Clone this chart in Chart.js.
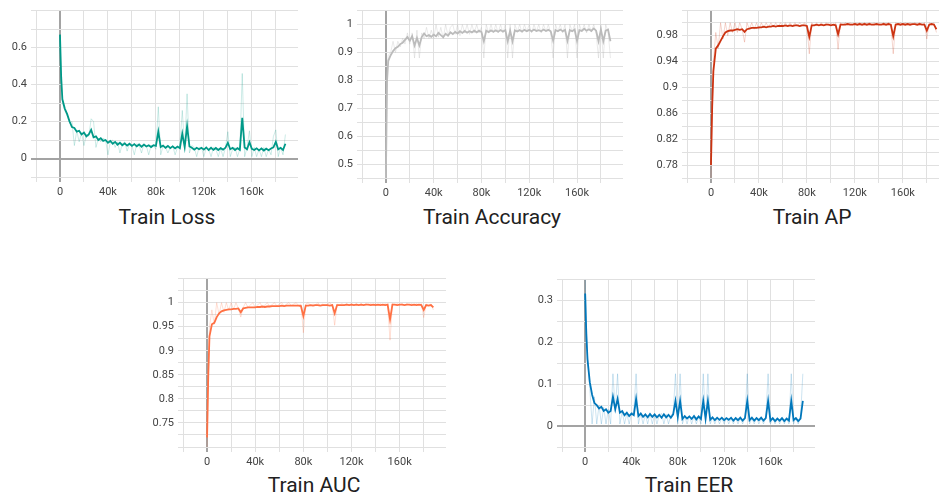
<!DOCTYPE html>
<html>
<head>
<meta charset="utf-8">
<title>Training curves</title>
<script src="https://cdn.jsdelivr.net/npm/chart.js@4.4.1/dist/chart.umd.min.js"></script>
<style>
  html, body { margin: 0; padding: 0; background: #fff; }
  body { position: relative; width: 939px; height: 497px; overflow: hidden; font-family: Roboto, "Noto Sans", sans-serif; }
  canvas { position: absolute; }
  .title { position: absolute; width: 240px; margin-left: -120px; text-align: center; font-size: 21px; line-height: 21px; color: #212121; }
</style>
</head>
<body>
<canvas id="lossChart"></canvas>
<canvas id="accChart"></canvas>
<canvas id="apChart"></canvas>
<canvas id="aucChart"></canvas>
<canvas id="eerChart"></canvas>
<div class="title" style="left:167px;top:207px">Train Loss</div>
<div class="title" style="left:492px;top:207px">Train Accuracy</div>
<div class="title" style="left:812px;top:207px">Train AP</div>
<div class="title" style="left:314px;top:475px">Train AUC</div>
<div class="title" style="left:689px;top:475px">Train EER</div>
<script>
// training step, in thousands
const steps = [0,1,2,4,6,8,10,12,14,16, 18,20,22,24,26,28,30,32,34,36, 38,40,42,44,46,48,50,52,54,56,
  58,60,62,64,66,68,70,72,74,76, 78,80,82,84,86,88,90,92,94,96, 98,100,102,104,106,108,110,112,114,116,
  118,120,122,124,126,128,130,132,134,136, 138,140,142,144,146,148,150,152,154,156,
  158,160,162,164,166,168,170,172,174,176, 178,180,182,184,186,188];

// Train Loss
const lossSmoothed = [0.67,0.44,0.32,0.27,0.24,0.2,0.17,0.165,0.145,0.15,
  0.13,0.14,0.12,0.13,0.155,0.115,0.12,0.1,0.11,0.095,
  0.1,0.085,0.095,0.08,0.09,0.075,0.085,0.072,0.082,0.07,
  0.08,0.068,0.078,0.066,0.076,0.064,0.075,0.065,0.072,0.062,
  0.072,0.068,0.145,0.062,0.07,0.058,0.068,0.056,0.066,0.055,
  0.065,0.056,0.135,0.062,0.175,0.065,0.058,0.048,0.058,0.05,
  0.058,0.048,0.06,0.046,0.058,0.047,0.057,0.046,0.056,0.048,
  0.058,0.085,0.05,0.058,0.046,0.056,0.047,0.22,0.06,0.05,
  0.088,0.052,0.046,0.055,0.044,0.054,0.043,0.053,0.045,0.054,
  0.06,0.09,0.05,0.058,0.046,0.08];
const lossRaw = [0.67,0.42,0.3,0.26,0.23,0.19,0.2,0.07,0.15,0.09,
  0.14,0.07,0.13,0.12,0.215,0.2,0.06,0.11,0.09,0.11,
  0.1,0.02,0.09,0.1,0.06,0.09,0.03,0.08,0.09,0.04,
  0.08,0.07,0.02,0.08,0.07,0.03,0.08,0.07,0.02,0.07,
  0.07,0.05,0.28,0.02,0.07,0.06,0.03,0.06,0.07,0.02,
  0.06,0.07,0.26,0.05,0.35,0.03,0.07,0.06,0.01,0.06,
  0.06,0.01,0.06,0.05,0.01,0.06,0.05,0.01,0.055,0.01,
  0.06,0.145,0.01,0.05,0.06,0.01,0.05,0.46,0.01,0.06,
  0.15,0.01,0.06,0.01,0.05,0.01,0.06,0.01,0.05,0.02,
  0.12,0.155,0.01,0.06,0.02,0.13];

// Train Accuracy
const accSmoothed = [0.45,0.8,0.87,0.89,0.905,0.915,0.92,0.93,0.935,0.945,
  0.955,0.942,0.958,0.925,0.952,0.925,0.955,0.968,0.958,0.962,
  0.956,0.964,0.958,0.97,0.962,0.955,0.967,0.96,0.972,0.966,
  0.974,0.968,0.976,0.97,0.977,0.971,0.976,0.972,0.978,0.972,
  0.978,0.973,0.94,0.978,0.973,0.979,0.974,0.979,0.974,0.98,
  0.975,0.98,0.94,0.978,0.94,0.979,0.975,0.98,0.975,0.981,
  0.976,0.981,0.976,0.982,0.977,0.98,0.976,0.982,0.977,0.981,
  0.976,0.942,0.98,0.976,0.982,0.976,0.981,0.942,0.98,0.976,
  0.982,0.942,0.98,0.977,0.985,0.978,0.983,0.977,0.986,0.978,
  0.94,0.982,0.94,0.978,0.982,0.94];
const accRaw = [0.45,0.85,0.89,0.9,0.94,0.9,0.94,0.92,0.95,0.93,
  0.97,0.93,0.97,0.88,0.98,0.88,0.97,0.95,0.99,0.95,
  0.98,0.95,1.0,0.955,0.99,0.95,1.0,0.96,0.99,1.0,
  0.965,1.0,0.96,1.0,0.97,1.0,0.965,1.0,0.97,1.0,
  0.97,0.99,0.88,1.0,0.97,1.0,0.97,1.0,0.97,1.0,
  0.97,1.0,0.88,1.0,0.88,1.0,0.975,1.0,0.97,1.0,
  0.975,1.0,0.97,1.0,0.975,1.0,0.97,1.0,0.975,1.0,
  0.97,0.88,1.0,0.975,1.0,0.97,1.0,0.88,1.0,0.975,
  1.0,0.88,1.0,0.975,1.0,0.97,1.0,0.975,1.0,0.97,
  0.88,1.0,0.88,1.0,0.975,0.88];

// Train AP
const apSmoothed = [0.78,0.87,0.925,0.96,0.965,0.972,0.979,0.985,0.987,0.988,
  0.988,0.989,0.99,0.989,0.99,0.986,0.99,0.991,0.992,0.992,
  0.992,0.993,0.993,0.994,0.993,0.994,0.994,0.995,0.994,0.995,
  0.995,0.995,0.996,0.995,0.996,0.995,0.996,0.996,0.995,0.996,
  0.996,0.995,0.978,0.996,0.996,0.997,0.996,0.997,0.996,0.997,
  0.997,0.996,0.997,0.996,0.982,0.997,0.997,0.997,0.998,0.997,
  0.997,0.998,0.997,0.998,0.997,0.998,0.997,0.998,0.997,0.997,
  0.998,0.997,0.997,0.998,0.997,0.998,0.997,0.979,0.997,0.998,
  0.997,0.998,0.997,0.998,0.997,0.998,0.998,0.997,0.998,0.997,
  0.997,0.988,0.997,0.998,0.997,0.99];
const apRaw = [0.76,0.86,0.94,0.985,0.96,1.0,0.975,1.0,0.98,1.0,
  0.985,1.0,0.985,1.0,0.99,0.97,1.0,0.99,1.0,0.99,
  1.0,0.99,1.0,0.992,1.0,0.993,1.0,0.993,1.0,0.994,
  1.0,0.994,1.0,0.995,1.0,0.995,1.0,0.995,1.0,0.995,
  1.0,0.995,0.952,1.0,0.995,1.0,0.996,1.0,0.996,1.0,
  0.996,1.0,0.996,1.0,0.959,1.0,0.996,1.0,0.997,1.0,
  0.997,1.0,0.997,1.0,0.997,1.0,0.997,1.0,0.997,1.0,
  0.997,1.0,0.997,1.0,0.997,1.0,0.997,0.952,1.0,0.997,
  1.0,0.997,1.0,0.997,1.0,0.997,1.0,0.997,1.0,0.997,
  1.0,0.975,1.0,0.997,1.0,0.985];

// Train AUC
const aucSmoothed = [0.72,0.85,0.93,0.955,0.958,0.97,0.978,0.982,0.984,0.985,
  0.986,0.986,0.987,0.987,0.988,0.98,0.988,0.989,0.99,0.99,
  0.99,0.99,0.991,0.991,0.992,0.991,0.992,0.992,0.993,0.993,
  0.993,0.993,0.994,0.993,0.994,0.994,0.994,0.994,0.994,0.994,
  0.993,0.972,0.994,0.994,0.995,0.994,0.995,0.995,0.994,0.995,
  0.995,0.995,0.994,0.995,0.978,0.995,0.995,0.995,0.995,0.996,
  0.995,0.996,0.995,0.996,0.995,0.996,0.995,0.996,0.996,0.995,
  0.996,0.995,0.996,0.995,0.996,0.995,0.996,0.965,0.996,0.996,
  0.995,0.996,0.996,0.995,0.996,0.996,0.995,0.996,0.995,0.996,
  0.995,0.985,0.995,0.994,0.995,0.99];
const aucRaw = [0.7,0.84,0.95,0.985,0.955,1.0,0.975,1.0,0.98,1.0,
  0.984,1.0,0.986,1.0,0.988,0.97,0.99,1.0,0.99,0.995,
  1.0,0.99,0.995,1.0,0.99,0.995,1.0,0.992,0.996,1.0,
  0.993,0.997,1.0,0.993,0.997,1.0,0.994,0.997,1.0,0.994,
  0.997,0.9375,0.997,1.0,0.994,0.997,0.995,1.0,0.994,0.997,
  0.995,0.997,1.0,0.994,0.953,0.997,0.995,0.998,0.995,0.998,
  0.995,0.998,0.995,0.998,0.995,0.998,0.995,0.998,0.995,0.998,
  0.995,0.998,0.995,0.998,0.995,0.998,0.995,0.922,0.998,0.995,
  0.998,0.995,0.998,0.995,0.998,0.995,0.998,0.995,0.998,0.995,
  0.998,0.969,0.997,0.995,0.997,0.985];

// Train EER
const eerSmoothed = [0.317,0.22,0.16,0.105,0.075,0.055,0.05,0.042,0.046,0.036,
  0.04,0.032,0.036,0.07,0.04,0.065,0.032,0.036,0.026,0.032,
  0.024,0.03,0.026,0.065,0.024,0.03,0.022,0.028,0.021,0.029,
  0.022,0.028,0.021,0.027,0.02,0.028,0.021,0.027,0.02,0.028,
  0.06,0.022,0.06,0.017,0.024,0.018,0.023,0.017,0.024,0.016,
  0.023,0.017,0.06,0.018,0.06,0.015,0.021,0.014,0.02,0.015,
  0.02,0.014,0.019,0.015,0.02,0.013,0.019,0.014,0.02,0.013,
  0.019,0.06,0.014,0.02,0.013,0.019,0.014,0.02,0.013,0.019,
  0.06,0.013,0.019,0.012,0.018,0.013,0.019,0.012,0.018,0.013,
  0.06,0.014,0.019,0.012,0.018,0.06];
const eerRaw = [0.35,0.25,0.17,0.09,0.005,0.07,0.005,0.05,0.005,0.045,
  0.005,0.04,0.005,0.125,0.035,0.125,0.005,0.035,0.005,0.03,
  0.005,0.03,0.035,0.125,0.005,0.03,0.005,0.028,0.005,0.03,
  0.005,0.028,0.005,0.026,0.03,0.005,0.028,0.005,0.026,0.03,
  0.125,0.005,0.125,0.005,0.024,0.005,0.025,0.005,0.024,0.005,
  0.022,0.005,0.125,0.005,0.125,0.005,0.02,0.005,0.02,0.005,
  0.02,0.005,0.02,0.005,0.019,0.005,0.02,0.005,0.019,0.005,
  0.02,0.125,0.005,0.019,0.005,0.02,0.005,0.019,0.005,0.02,
  0.125,0.005,0.019,0.005,0.018,0.005,0.02,0.005,0.018,0.005,
  0.125,0.005,0.02,0.005,0.02,0.125];

// axis ticks: grid lines and the subset that gets a label
const stepGrid = [-20,0,20,40,60,80,100,120,140,160,180];
const stepLabels = [0,40,80,120,160];
const lossGrid = [-0.1,0,0.1,0.2,0.3,0.4,0.5,0.6,0.7,0.8];
const lossLabels = [0,0.2,0.4,0.6];
const accGrid = [0.45,0.5,0.55,0.6,0.65,0.7,0.75,0.8,0.85,0.9,0.95,1,1.05];
const accLabels = [0.5,0.6,0.7,0.8,0.9,1];
const apGrid = [0.76,0.78,0.8,0.82,0.84,0.86,0.88,0.9,0.92,0.94,0.96,0.98,1,1.0188];
const apLabels = [0.78,0.82,0.86,0.9,0.94,0.98];
const aucGrid = [0.7,0.725,0.75,0.775,0.8,0.825,0.85,0.875,0.9,0.925,0.95,0.975,1,1.025,1.05];
const aucLabels = [0.75,0.8,0.85,0.9,0.95,1];
const eerGrid = [-0.05,0,0.05,0.1,0.15,0.2,0.25,0.3,0.35];
const eerLabels = [0,0.1,0.2,0.3];

Chart.defaults.font.family = 'Roboto, "Noto Sans", sans-serif';
Chart.defaults.font.size = 11;
Chart.defaults.color = '#444';

const AXIS_W = 36, AXIS_H = 24, TOP_PAD = 10.6;
const STEP_MIN = -20, STEP_MAX = 198.5;

const near = (list, v) => list.some(t => Math.abs(t - v) < 1e-9);
const fmt = v => String(parseFloat(v.toFixed(3)));
const gridColor = ctx => (ctx.tick && Math.abs(ctx.tick.value) < 1e-9) ? '#a3a3a3' : '#e0e0e0';
const gridWidth = ctx => (ctx.tick && Math.abs(ctx.tick.value) < 1e-9) ? 2 : 1;

function makeChart(id, box, color, faded, smoothed, raw, yMin, yMax, yGrid, yLabels) {
  const canvas = document.getElementById(id);
  const left = Math.round(box.l - AXIS_W), top = Math.round(box.t - TOP_PAD);
  canvas.width = Math.round(box.r - left);
  canvas.height = Math.round(box.b + AXIS_H - top);
  canvas.style.left = left + 'px';
  canvas.style.top = top + 'px';

  const pts = vals => steps.map((s, i) => ({ x: s, y: vals[i] }));
  return new Chart(canvas, {
    type: 'line',
    data: {
      datasets: [
        { data: pts(smoothed), borderColor: color, borderWidth: 1.8, pointRadius: 0, tension: 0 },
        { data: pts(raw), borderColor: faded, borderWidth: 1, pointRadius: 0, tension: 0 }
      ]
    },
    options: {
      responsive: false,
      animation: false,
      layout: { padding: 0 },
      plugins: { legend: { display: false }, tooltip: { enabled: false } },
      scales: {
        x: {
          type: 'linear', min: STEP_MIN, max: STEP_MAX,
          afterBuildTicks: axis => { axis.ticks = stepGrid.map(v => ({ value: v })); },
          afterFit: axis => { axis.height = AXIS_H; },
          ticks: { autoSkip: false, maxRotation: 0, padding: 4,
                   callback: v => near(stepLabels, v) ? (v === 0 ? '0' : v + 'k') : '' },
          grid: { color: gridColor, lineWidth: gridWidth, tickLength: 5 },
          border: { display: false }
        },
        y: {
          min: yMin, max: yMax,
          afterBuildTicks: axis => { axis.ticks = yGrid.map(v => ({ value: v })); },
          afterFit: axis => { axis.width = AXIS_W; },
          ticks: { autoSkip: false, padding: 4, callback: v => near(yLabels, v) ? fmt(v) : '' },
          grid: { color: gridColor, lineWidth: gridWidth, tickLength: 5 },
          border: { display: false }
        }
      }
    }
  });
}

makeChart('lossChart', { l: 36, r: 298, t: 11, b: 177 }, '#009988', 'rgba(0,153,136,0.2)',
  lossSmoothed, lossRaw, -0.1, 0.8, lossGrid, lossLabels);
makeChart('accChart', { l: 362, r: 623, t: 11, b: 178 }, '#bbbbbb', 'rgba(187,187,187,0.3)',
  accSmoothed, accRaw, 0.45, 1.05, accGrid, accLabels);
makeChart('apChart', { l: 687, r: 949, t: 11, b: 178 }, '#cc3311', 'rgba(204,51,17,0.2)',
  apSmoothed, apRaw, 0.76, 1.0188, apGrid, apLabels);
makeChart('aucChart', { l: 183, r: 446, t: 279, b: 447 }, '#ff7043', 'rgba(255,112,67,0.22)',
  aucSmoothed, aucRaw, 0.7, 1.05, aucGrid, aucLabels);
makeChart('eerChart', { l: 562, r: 815, t: 280, b: 447 }, '#0077bb', 'rgba(0,119,187,0.2)',
  eerSmoothed, eerRaw, -0.05, 0.35, eerGrid, eerLabels);
</script>
</body>
</html>
